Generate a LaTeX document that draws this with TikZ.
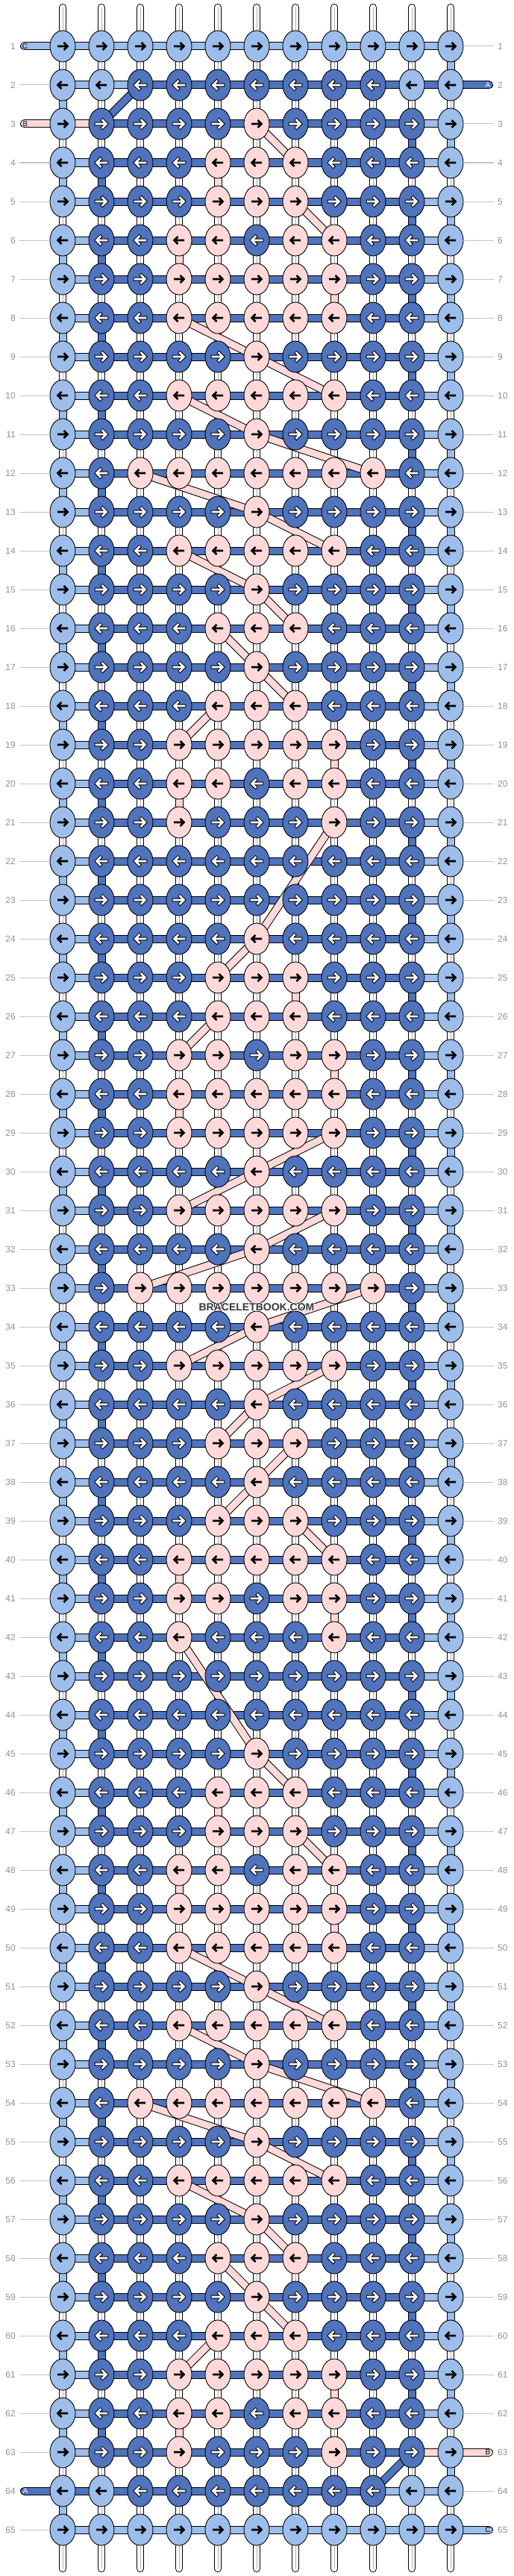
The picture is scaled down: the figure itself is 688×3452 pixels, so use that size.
\documentclass[tikz,border=0pt]{standalone}
\usepackage{fontspec}
\setmainfont{Liberation Sans}
\usetikzlibrary{shapes.geometric}
\definecolor{cL}{RGB}{157,189,234}
\definecolor{cD}{RGB}{79,115,189}
\definecolor{cP}{RGB}{255,217,217}
\definecolor{numgray}{RGB}{145,145,145}
\definecolor{linegray}{RGB}{195,195,195}
\definecolor{warpgray}{RGB}{175,175,175}
\definecolor{wmgray}{RGB}{55,55,55}

\expandafter\def\csname pat1\endcsname{LLLLLLLLLLL}
\expandafter\def\csname pat2\endcsname{LLDDDDDDDLL}
\expandafter\def\csname pat3\endcsname{LDDDDPDDDDL}
\expandafter\def\csname pat4\endcsname{LDDDPPPDDDL}
\expandafter\def\csname pat5\endcsname{LDDDPPPDDDL}
\expandafter\def\csname pat6\endcsname{LDDPPDPPDDL}
\expandafter\def\csname pat7\endcsname{LDDPPPPPDDL}
\expandafter\def\csname pat8\endcsname{LDDPPPPPDDL}
\expandafter\def\csname pat9\endcsname{LDDDDPDDDDL}
\expandafter\def\csname pat10\endcsname{LDDPPPPPDDL}
\expandafter\def\csname pat11\endcsname{LDDDDPDDDDL}
\expandafter\def\csname pat12\endcsname{LDPPPPPPPDL}
\expandafter\def\csname pat13\endcsname{LDDDDPDDDDL}
\expandafter\def\csname pat14\endcsname{LDDPPPPPDDL}
\expandafter\def\csname pat15\endcsname{LDDDDPDDDDL}
\expandafter\def\csname pat16\endcsname{LDDDPPPDDDL}
\expandafter\def\csname pat17\endcsname{LDDDDPDDDDL}
\expandafter\def\csname pat18\endcsname{LDDDPPPDDDL}
\expandafter\def\csname pat19\endcsname{LDDPPPPPDDL}
\expandafter\def\csname pat20\endcsname{LDDPPDPPDDL}
\expandafter\def\csname pat21\endcsname{LDDPDDDPDDL}
\expandafter\def\csname pat22\endcsname{LDDDDDDDDDL}
\expandafter\def\csname pat23\endcsname{LDDDDDDDDDL}
\expandafter\def\csname pat64\endcsname{LLDDDDDDDLL}
\expandafter\def\csname pat65\endcsname{LLLLLLLLLLL}

\newcount\knotcol
\newcommand\drawknot[3]{%
  \node[knot, fill=c#3] (k-#1-#2) at (p-#1-#2) {};%
  \ifodd#1\relax\def\adir{1}\else\def\adir{-1}\fi
  \if D#3%
    \draw[arrowback, shift={(k-#1-#2.center)}, xscale=\adir] (-7,0) -- (6,0) (1.5,-5) -- (6.5,0) -- (1.5,5);%
    \draw[arrowwhite, shift={(k-#1-#2.center)}, xscale=\adir] (-7,0) -- (6,0) (1.5,-5) -- (6.5,0) -- (1.5,5);%
  \else
    \draw[arrowblack, shift={(k-#1-#2.center)}, xscale=\adir] (-7,0) -- (6,0) (1.5,-5) -- (6.5,0) -- (1.5,5);%
  \fi}
\makeatletter
\def\knotrowloop#1{%
  \ifx#1\@nil\else
    \global\advance\knotcol by 1\relax
    \edef\knotargs{{\krow}{\the\knotcol}{#1}}%
    \expandafter\drawknot\knotargs
    \expandafter\knotrowloop
  \fi}
\def\startknotrow{\global\knotcol=0\relax\expandafter\knotrowloop\kpat\@nil}
\makeatother
\newcommand\halo[1]{\leavevmode\rlap{\color{white}\kern-1pt#1}\rlap{\color{white}\kern1pt#1}\rlap{\color{white}\raisebox{1pt}{#1}}\rlap{\color{white}\raisebox{-1pt}{#1}}#1}

\begin{document}
\begin{tikzpicture}[x=1pt,y=-1pt,
  knot/.style={ellipse, draw=black, line width=0.9pt, minimum width=34pt, minimum height=42pt, inner sep=0pt, outer sep=0pt},
  seg/.style={draw=#1, line width=9pt, preaction={draw=black, line width=11pt}},
  band/.style={draw=#1, line width=9pt, line cap=round, preaction={draw=black, line width=11pt, line cap=round}},
  warp/.style={draw=white, line width=8pt, line cap=round, preaction={draw=black, line width=10pt, line cap=round}},
  warpin/.style={draw=warpgray, line width=0.7pt},
  arrowblack/.style={draw=black, line width=2.7pt, line join=miter},
  arrowback/.style={draw=black, line width=4.6pt, line cap=rect, line join=miter},
  arrowwhite/.style={draw=white, line width=2.6pt, line cap=rect, line join=miter},
  numlbl/.style={inner sep=0pt, text=numgray, font=\fontsize{12}{12}\selectfont},
  gline/.style={draw=linegray, line width=1pt},
  letter/.style={inner sep=0pt, font=\fontsize{10}{10}\selectfont}
]
\fill[white] (0,0) rectangle (688,3452);
\useasboundingbox (0,0) rectangle (688,3452);

% grid coordinates
\foreach \r in {1,...,65}{\foreach \c in {1,...,11}{%
  \coordinate (p-\r-\c) at ({84+52*(\c-1)},{62+52*(\r-1)});}}
% band end points
\coordinate (le-1) at (32.5,62);
\coordinate (le-3) at (32.5,166);
\coordinate (le-64) at (32.5,3338);
\coordinate (re-2) at (655.5,114);
\coordinate (re-63) at (655.5,3286);
\coordinate (re-65) at (655.5,3390);

% warp strings
\foreach \c in {1,...,11}{%
  \coordinate (wt-\c) at ({84+52*(\c-1)},10);
  \coordinate (wb-\c) at ({84+52*(\c-1)},3442);
  \draw[warp] (wt-\c) -- (wb-\c);
  \draw[warpin] (wt-\c) -- (wb-\c);
}

% horizontal threads
\draw[band=cL] (le-1) -- (p-1-11);
\draw[seg=cL] (p-2-1) -- (p-2-3);
\draw[band=cD] (p-2-3) -- (re-2);
\draw[band=cP] (le-3) -- (p-3-2);
\draw[seg=cD] (p-3-2) -- (p-3-10);
\draw[seg=cL] (p-3-10) -- (p-3-11);
\foreach \r in {4,...,62}{%
  \draw[seg=cL] (p-\r-1) -- (p-\r-2);
  \draw[seg=cD] (p-\r-2) -- (p-\r-10);
  \draw[seg=cL] (p-\r-10) -- (p-\r-11);
}
\draw[seg=cL] (p-63-1) -- (p-63-2);
\draw[seg=cD] (p-63-2) -- (p-63-10);
\draw[band=cP] (p-63-10) -- (re-63);
\draw[seg=cL] (p-64-9) -- (p-64-11);
\draw[band=cD] (le-64) -- (p-64-9);
\draw[band=cL] (p-65-1) -- (re-65);

% vertical turns
\foreach \r in {1,3,...,63}{\pgfmathtruncatemacro\rn{\r+1}\draw[seg=cL] (p-\r-11) -- (p-\rn-11);}
\foreach \r in {2,4,...,64}{\pgfmathtruncatemacro\rn{\r+1}\draw[seg=cL] (p-\r-1) -- (p-\rn-1);}
\foreach \r in {3,5,...,61}{\pgfmathtruncatemacro\rn{\r+1}\draw[seg=cD] (p-\r-10) -- (p-\rn-10);}
\foreach \r in {4,6,...,62}{\pgfmathtruncatemacro\rn{\r+1}\draw[seg=cD] (p-\r-2) -- (p-\rn-2);}
\draw[seg=cD] (p-2-3) -- (p-3-2);
\draw[seg=cD] (p-63-10) -- (p-64-9);
\foreach \r/\c in {4/5,6/4,7/8,19/8,20/4,25/7,27/8,28/4,40/4,41/8,46/5,48/4,49/8,61/8,62/4}{%
  \pgfmathtruncatemacro\rn{\r+1}\draw[seg=cP] (p-\r-\c) -- (p-\rn-\c);}
\foreach \ra/\ca/\rb/\cb in {3/6/4/7,5/7/6/8,8/4/9/6,9/6/10/8,10/4/11/6,11/6/12/9,12/3/13/6,13/6/14/8,14/4/15/6,15/6/16/7,16/5/17/6,17/6/18/7,18/5/19/4,21/8/24/6,24/6/25/5,26/5/27/4,29/8/30/6,30/6/31/4,31/8/32/6,32/6/33/3,33/9/34/6,34/6/35/4,35/8/36/6,36/6/37/5,37/7/38/6,38/6/39/5,39/7/40/8,42/4/45/6,45/6/46/7,47/7/48/8,50/4/51/6,51/6/52/8,52/4/53/6,53/6/54/9,54/3/55/6,55/6/56/8,56/4/57/6,57/6/58/7,58/5/59/6,59/6/60/7,60/5/61/4}{%
  \draw[seg=cP] (p-\ra-\ca) -- (p-\rb-\cb);}

% knots
\foreach \r in {1,...,65}{%
  \pgfmathtruncatemacro\m{(\r>=24 && \r<=44) ? \r-21 : ((\r>=45 && \r<=63) ? \r-42 : \r)}%
  \edef\krow{\r}%
  \edef\kpat{\csname pat\m\endcsname}%
  \startknotrow
}

% row numbers and leader lines
\foreach \r in {1,...,65}{%
  \pgfmathsetmacro\yy{62+52*(\r-1)}
  \node[numlbl, anchor=east] (ln-\r) at (21,\yy) {\r};
  \node[numlbl, anchor=west] (rn-\r) at (667,\yy) {\r};
  \ifnum\r=1 \else\ifnum\r=3 \else\ifnum\r=64 \else
    \draw[gline, shorten <=5pt] (ln-\r.east) -- (k-\r-1.west);
  \fi\fi\fi
  \ifnum\r=2 \else\ifnum\r=63 \else\ifnum\r=65 \else
    \draw[gline, shorten >=5pt] (k-\r-11.east) -- (rn-\r.west);
  \fi\fi\fi
}

% thread letters
\node[letter, text=black] (lt-1) at (33.5,62) {C};
\node[letter, text=black] (lt-3) at (34,166) {B};
\node[letter, text=white] (lt-64) at (34,3338) {A};
\node[letter, text=white] (rt-2) at (654,114) {A};
\node[letter, text=black] (rt-63) at (654,3286) {B};
\node[letter, text=black] (rt-65) at (654,3390) {C};

% watermark
\node[inner sep=0pt, text=wmgray, font=\fontsize{14}{14}\selectfont\bfseries] (wm) at (344,1752) {\halo{BRACELETBOOK.COM}};
\end{tikzpicture}
\end{document}
